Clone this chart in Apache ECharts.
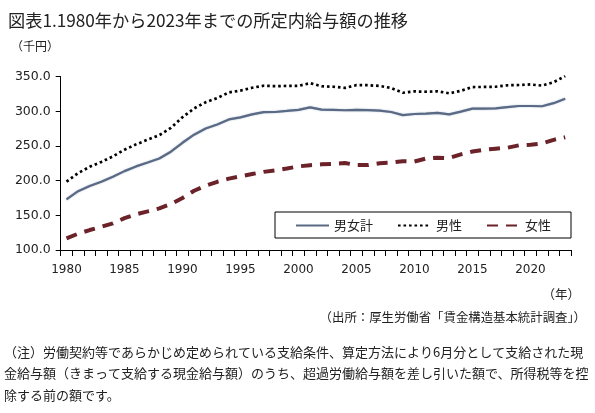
<!DOCTYPE html>
<html><head><meta charset="utf-8">
<script src="https://cdn.jsdelivr.net/npm/echarts@6/dist/echarts.min.js"></script>
<style>html,body{margin:0;padding:0;background:#fff}#c{width:595px;height:413px}</style>
</head><body><div id="c"></div>
<script>
const years = ['1980','1981','1982','1983','1984','1985','1986','1987','1988','1989','1990','1991','1992','1993','1994','1995','1996','1997','1998','1999','2000','2001','2002','2003','2004','2005','2006','2007','2008','2009','2010','2011','2012','2013','2014','2015','2016','2017','2018','2019','2020','2021','2022','2023'];
const total = [173.1,184.8,192.4,198.5,205.6,213.8,220.6,226.2,231.9,241.8,254.7,266.3,275.2,281.1,288.4,291.3,295.6,298.9,299.1,300.6,302.2,305.8,302.6,302.1,301.6,302.0,301.8,301.1,299.1,294.5,296.2,296.8,297.7,295.7,299.6,304.0,304.0,304.3,306.2,307.7,307.7,307.4,311.8,318.3];
const male = [198.6,211.0,220.0,227.0,235.0,244.6,252.4,259.1,265.6,276.1,291.5,304.2,313.2,319.2,327.3,330.0,334.0,337.0,336.4,336.7,336.8,340.7,336.2,335.5,333.9,337.8,337.7,336.7,333.7,326.8,328.8,328.3,329.0,326.0,329.6,335.1,335.2,335.5,337.6,338.0,338.8,337.2,342.0,350.9];
const female = [116.9,123.5,128.8,133.5,138.5,146.0,151.5,155.7,160.0,166.3,175.0,185.5,192.8,198.4,203.0,206.2,209.6,212.7,214.9,217.5,220.6,222.4,223.6,224.2,225.6,222.5,222.6,225.2,226.1,228.0,227.6,231.9,233.1,232.6,238.0,242.0,244.6,246.1,247.5,251.0,251.8,253.6,258.9,262.6];
const seriesNames = ['男女計','男性','女性'];
const yTicks = {min:100, max:350, step:50};

const jp = '"Noto Sans CJK JP","Noto Sans",sans-serif';
const num = '"DejaVu Sans",Verdana,sans-serif';
const chart = echarts.init(document.getElementById('c'), null, {renderer:'canvas'});
chart.setOption({
  animation:false,
  backgroundColor:'#fff',
  title:{text:'図表1.1980年から2023年までの所定内給与額の推移', left:3, top:7,
    textStyle:{fontFamily:jp, fontSize:17.2, fontWeight:'normal', color:'#222'}},
  grid:{left:60.7, right:24, top:76.7, bottom:163},
  xAxis:{type:'category', data:years, boundaryGap:true,
    axisLine:{lineStyle:{color:'#000', width:1}},
    axisTick:{show:true, interval:0, length:6, lineStyle:{color:'#000'}},
    axisLabel:{interval:4, margin:14, fontFamily:num, fontSize:12, color:'#222'},
    splitLine:{show:false}},
  yAxis:{type:'value', min:yTicks.min, max:yTicks.max, interval:yTicks.step,
    axisLine:{show:true, lineStyle:{color:'#000', width:1}},
    axisTick:{show:true, length:5, lineStyle:{color:'#000'}},
    axisLabel:{margin:10, fontFamily:num, fontSize:12.5, color:'#222', formatter:v=>v.toFixed(1)},
    splitLine:{show:false}},
  legend:{left:275, top:212, orient:'horizontal',
    padding:[7,20,6,20], itemWidth:33, itemHeight:10, itemGap:24,
    borderColor:'#000', borderWidth:1, borderRadius:0,
    itemStyle:{opacity:0},
    textStyle:{fontFamily:jp, fontSize:13, color:'#222'},
    data:seriesNames},
  series:[
    {name:seriesNames[0], type:'line', data:total, symbol:'none', smooth:false,
      itemStyle:{color:'#56667f'},
      lineStyle:{color:'#5a6a84', width:2.2, shadowColor:'rgba(150,165,190,0.9)', shadowBlur:1.5}},
    {name:seriesNames[1], type:'line', data:male, symbol:'none',
      itemStyle:{color:'#000'},
      lineStyle:{color:'#000', width:2.7, type:[2.6,2.9]}},
    {name:seriesNames[2], type:'line', data:female, symbol:'none',
      itemStyle:{color:'#6b2229'},
      lineStyle:{color:'#6b2229', width:4, type:[11,8]}}
  ],
  graphic:[
    {type:'text', left:11, top:40, style:{text:'（千円）', font:'12px '+jp, fill:'#222'}},
    {type:'text', right:15, top:288, style:{text:'（年）', font:'12.5px '+jp, fill:'#222'}},
    {type:'text', right:9, top:311, style:{text:'（出所：厚生労働省「賃金構造基本統計調査」）', font:'12.4px '+jp, fill:'#222'}},
    {type:'text', left:4, top:341, style:{text:'（注）労働契約等であらかじめ定められている支給条件、算定方法により6月分として支給された現\n金給与額（きまって支給する現金給与額）のうち、超過労働給与額を差し引いた額で、所得税等を控\n除する前の額です。', font:'13px '+jp, fill:'#222', lineHeight:21.5}}
  ]
});
</script></body></html>
